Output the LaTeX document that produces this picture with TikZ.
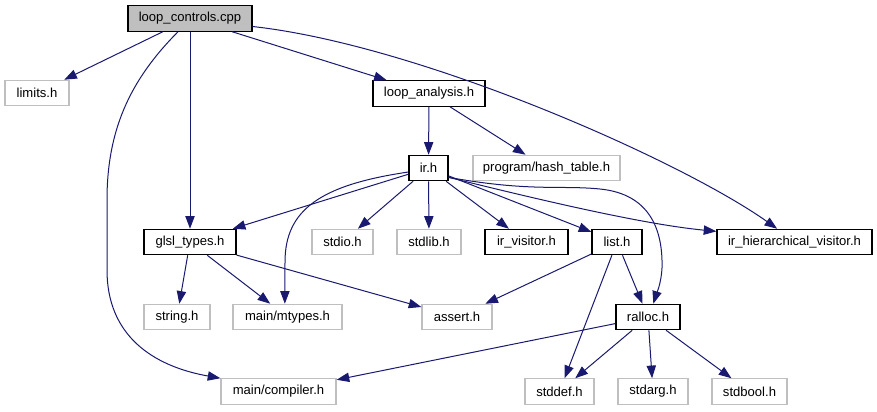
\documentclass[tikz,border=0pt]{standalone}
\usepackage{fontspec}
\setmainfont{Liberation Sans}
\usetikzlibrary{arrows.meta}
\definecolor{edgec}{HTML}{191970}
\definecolor{grayb}{HTML}{BFBFBF}
\begin{document}
\begin{tikzpicture}[x=0.75pt,y=-0.75pt,
 box/.style={rectangle, inner sep=0pt, minimum height=19pt, font=\fontsize{9.8}{12}\selectfont, line width=0.9pt},
 doc/.style={box, draw=black, fill=white},
 ext/.style={box, draw=grayb, fill=white},
 cur/.style={box, draw=black, fill=grayb},
 w/.style={minimum width=#1*0.75pt},
 dep/.style={draw=edgec, line width=0.75pt, -{Triangle[length=9.5pt,width=7pt]}}]
\useasboundingbox (0,0) rectangle (877,411);

\node[cur,w=124] (lc) at (190,18.5) {loop\_controls.cpp};
\node[ext,w=64] (limits) at (37,93) {limits.h};
\node[doc,w=112] (la) at (429,93.5) {loop\_analysis.h};
\node[doc,w=39] (irh) at (428.5,168) {ir.h};
\node[ext,w=147] (hash) at (546.5,168) {program/hash\_table.h};
\node[doc,w=92] (glsl) at (190,242) {glsl\_types.h};
\node[ext,w=61] (stdio) at (342.5,242) {stdio.h};
\node[ext,w=64] (stdlib) at (429,242) {stdlib.h};
\node[doc,w=83] (irvis) at (526.5,242) {ir\_visitor.h};
\node[doc,w=50] (list) at (617,242) {list.h};
\node[doc,w=155] (ihv) at (794.5,242) {ir\_hierarchical\_visitor.h};
\node[ext,w=66] (string) at (177,317) {string.h};
\node[ext,w=109] (mtypes) at (287.5,317) {main/mtypes.h};
\node[ext,w=70] (assert) at (457,317) {assert.h};
\node[doc,w=64] (ralloc) at (648,317) {ralloc.h};
\node[ext,w=115] (compiler) at (278.5,391.5) {main/compiler.h};
\node[ext,w=69] (stddef) at (559.5,391.5) {stddef.h};
\node[ext,w=70] (stdarg) at (653,391.5) {stdarg.h};
\node[ext,w=75] (stdbool) at (749.5,391.5) {stdbool.h};

\draw[dep] (lc) -- (limits);
\draw[dep] ([xshift=-9pt]lc.south) .. controls (130,80) and (107,130) .. (107,200) -- (107,270) .. controls (107,335) and (152,366) .. (compiler.north west);
\draw[dep] (lc) -- (glsl);
\draw[dep] (lc) -- (la);
\draw[dep] ([yshift=-6pt]lc.east) .. controls (420,45) and (680,160) .. ([xshift=-13pt]ihv.north);

\draw[dep] (la) -- (irh);
\draw[dep] (la) -- (hash);

\draw[dep] (irh) -- (glsl);
\draw[dep] ([yshift=-3pt]irh.west) .. controls (320,185) and (285,210) .. (285,262) -- ([xshift=-2pt]mtypes.north);
\draw[dep] (irh) -- (stdio);
\draw[dep] (irh) -- (stdlib);
\draw[dep] (irh) -- (irvis);
\draw[dep] (irh) -- (list);
\draw[dep] ([yshift=-7pt]irh.east) .. controls (560,205) and (650,225) .. ([yshift=8pt]ihv.west);
\draw[dep] ([yshift=-7pt]irh.east) .. controls (530,192) and (560,185) .. (600,189) .. controls (650,194) and (663,230) .. (662,268) .. controls (661,285) and (656,295) .. ([xshift=4pt]ralloc.north);

\draw[dep] (glsl) -- (string);
\draw[dep] (glsl) -- (mtypes);
\draw[dep] (glsl) -- (assert);

\draw[dep] (list) -- (assert);
\draw[dep] (list) -- (stddef);
\draw[dep] (list) -- (ralloc);

\draw[dep] (ralloc) -- (compiler);
\draw[dep] (ralloc) -- (stddef);
\draw[dep] (ralloc) -- (stdarg);
\draw[dep] (ralloc) -- (stdbool);
\end{tikzpicture}
\end{document}
